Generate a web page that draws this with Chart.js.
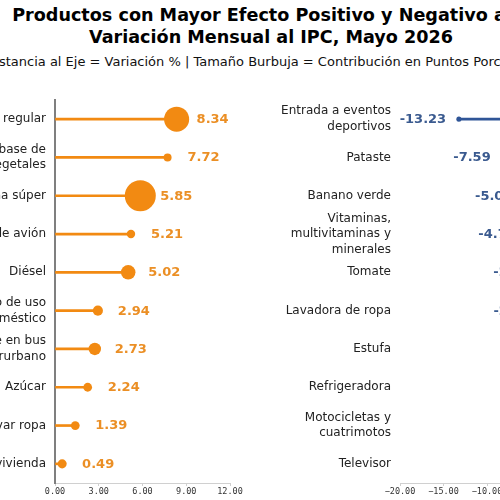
<!DOCTYPE html>
<html><head><meta charset="utf-8">
<script src="https://cdn.jsdelivr.net/npm/chart.js@4/dist/chart.umd.min.js"></script>
<style>
html,body{margin:0;padding:0;width:500px;height:500px;overflow:hidden;background:#fff;}
body{position:relative;font-family:'DejaVu Sans';}
#t{position:absolute;left:-129px;width:800px;top:4px;text-align:center;font:bold 17.6px/22px 'DejaVu Sans';color:#000;white-space:nowrap;}
#s{position:absolute;left:-129px;width:800px;top:54px;text-align:center;font:13px/16px 'DejaVu Sans';color:#111;white-space:nowrap;}
#cl{position:absolute;left:-100px;top:0;width:360px;height:500px;}
#cr{position:absolute;left:240px;top:0;width:360px;height:500px;}
</style></head><body>
<div id="t">Productos con Mayor Efecto Positivo y Negativo a la<br>Variación Mensual al IPC, Mayo 2026</div>
<div id="s">Distancia al Eje = Variación % | Tamaño Burbuja = Contribución en Puntos Porcentuales</div>
<div id="cl"><canvas id="left"></canvas></div>
<div id="cr"><canvas id="right"></canvas></div>
<script>
const leftCategories = [["Gasolina regular"], ["Bebidas a base de","vegetales"], "Gasolina súper", "Boleto de avión", "Diésel", ["Gas licuado de uso","doméstico"], ["Pasaje en bus","interurbano"], "Azúcar", "Jabón para lavar ropa", "Alquiler de vivienda"];
const leftValues = [8.34, 7.72, 5.85, 5.21, 5.02, 2.94, 2.73, 2.24, 1.39, 0.49];
const leftContrib = [0.098, 0.010, 0.150, 0.011, 0.033, 0.016, 0.024, 0.012, 0.012, 0.013];

const rightCategories = [["Entrada a eventos","deportivos"], "Pataste", "Banano verde", ["Vitaminas,","multivitaminas y","minerales"], "Tomate", "Lavadora de ropa", "Estufa", "Refrigeradora", ["Motocicletas y","cuatrimotos"], "Televisor"];
const rightValues = [-13.23, -7.59, -5.09, -4.71, -2.99, -2.97, -2.15, -2.02, -1.87, -1.70];
const rightContrib = [-0.004, -0.012, -0.025, -0.008, -0.020, -0.010, -0.009, -0.008, -0.007, -0.006];

const leftTicks = [0, 3, 6, 9, 12];
const rightTicks = [-20, -15, -10, -5, 0];

Chart.defaults.font.family = "'DejaVu Sans'";
Chart.defaults.animation = false;

const valueLabels = {
  id: 'valueLabels',
  afterDatasetsDraw(chart, args, o) {
    const {ctx, scales: {x, y}} = chart;
    const pts = chart.data.datasets[0].data;
    ctx.save();
    ctx.font = "bold 13px 'DejaVu Sans'";
    ctx.fillStyle = o.color;
    ctx.textAlign = 'center';
    ctx.textBaseline = 'middle';
    pts.forEach((p, i) => {
      ctx.fillText(p.x.toFixed(2), x.getPixelForValue(p.x) + o.dir * 36, y.getPixelForValue(i) + 0.5);
    });
    ctx.restore();
  }
};

function build(id, cats, vals, contrib, cfg) {
  return new Chart(document.getElementById(id), {
    type: 'bar',
    data: {
      labels: cats,
      datasets: [
        {
          type: 'bubble',
          data: vals.map((v, i) => ({x: v, y: i, r: Math.sqrt(Math.abs(contrib[i])) * 40})),
          backgroundColor: cfg.marker, borderColor: cfg.marker, borderWidth: 0,
          hoverRadius: 0, clip: false
        },
        {
          type: 'bar',
          data: vals,
          backgroundColor: cfg.marker, borderWidth: 0,
          barThickness: 2, clip: false
        }
      ]
    },
    plugins: [valueLabels],
    options: {
      indexAxis: 'y',
      responsive: true,
      maintainAspectRatio: false,
      devicePixelRatio: 1,
      layout: {padding: {top: 100, right: cfg.padRight, bottom: 0, left: 0}},
      plugins: {legend: {display: false}, tooltip: {enabled: false}, valueLabels: {color: cfg.text, dir: cfg.dir}},
      scales: {
        x: {
          type: 'linear', min: cfg.ticks[0], max: cfg.ticks[cfg.ticks.length - 1], offset: false,
          afterBuildTicks: s => { s.ticks = cfg.ticks.map(v => ({value: v})); },
          ticks: {
            autoSkip: false, maxRotation: 0, padding: 1, color: '#333',
            font: {family: "'DejaVu Sans Mono'", size: 8.5},
            callback: v => (v < 0 ? '\u2212' : '') + Math.abs(v).toFixed(2)
          },
          grid: {display: true, drawOnChartArea: false, drawTicks: true, tickLength: 3, color: '#d0d0d0'},
          border: {display: true, color: '#d0d0d0', width: 1},
          afterFit: s => { s.height = 17; s.paddingLeft = 0; s.paddingRight = 0; }
        },
        y: {
          type: 'category', offset: true,
          grid: {display: false, drawTicks: false},
          border: {display: cfg.spine, color: '#7f7f7f', width: 2},
          ticks: {padding: 9, color: '#222', font: {size: 12, lineHeight: 1.3}, autoSkip: false},
          afterFit: s => { s.width = cfg.yWidth; s.paddingTop = 0; s.paddingBottom = 0; }
        }
      }
    }
  });
}

build('left', leftCategories, leftValues, leftContrib,
  {marker: '#F28A12', text: '#EB8F25', dir: 1, ticks: leftTicks, padRight: 30, yWidth: 155, spine: true});
build('right', rightCategories, rightValues, rightContrib,
  {marker: '#2F5597', text: '#3A5A8F', dir: -1, ticks: rightTicks, padRight: 26, yWidth: 160, spine: false});
</script>
</body></html>
